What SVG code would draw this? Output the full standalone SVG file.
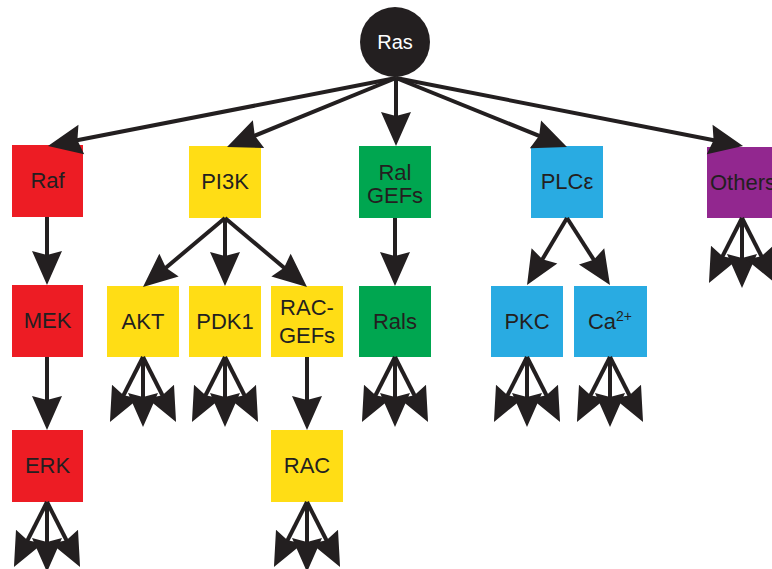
<svg xmlns="http://www.w3.org/2000/svg" xmlns:xlink="http://www.w3.org/1999/xlink" width="772" height="569" viewBox="0 0 772 569">
<style>
.lbl{font-family:"Liberation Sans",Arial,sans-serif;font-size:22px;fill:#231F20;text-anchor:middle}
.ras{font-family:"Liberation Sans",Arial,sans-serif;font-size:20px;fill:#FFFFFF;text-anchor:middle}
.red{fill:#ED1C24}.yel{fill:#FFDD15}.grn{fill:#00A650}.blu{fill:#29ABE2}.pur{fill:#92278F}
.ln{stroke:#231F20;stroke-width:4;fill:none;marker-end:url(#ah)}
</style>
<defs>
<marker id="ah" markerUnits="userSpaceOnUse" markerWidth="40" markerHeight="40" refX="0" refY="0" orient="auto" overflow="visible">
<path d="M14,0 L-20,-15 L-16,0 L-20,15 Z" fill="#231F20"/>
</marker>
<g id="fan">
<line class="ln" x1="0" y1="0" x2="-26.7" y2="52.5"/>
<line class="ln" x1="0" y1="0" x2="0" y2="56"/>
<line class="ln" x1="0" y1="0" x2="26.7" y2="52.5"/>
</g>
</defs>
<rect width="772" height="569" fill="#FFFFFF"/>
<g id="ras"><circle cx="395" cy="42" r="35" fill="#231F20"/><text class="ras" x="395" y="49">Ras</text></g>
<g id="raf"><rect class="red" x="12" y="145" width="71" height="72"/><text class="lbl" x="47.5" y="188">Raf</text></g>
<g id="mek"><rect class="red" x="12" y="285" width="71" height="72"/><text class="lbl" x="47.5" y="328">MEK</text></g>
<g id="erk"><rect class="red" x="12" y="430" width="71" height="72"/><text class="lbl" x="47.5" y="473">ERK</text></g>
<g id="pi3k"><rect class="yel" x="189" y="146" width="72" height="72"/><text class="lbl" x="225" y="189">PI3K</text></g>
<g id="akt"><rect class="yel" x="107" y="286" width="72" height="71"/><text class="lbl" x="143" y="329">AKT</text></g>
<g id="pdk1"><rect class="yel" x="189" y="286" width="72" height="71"/><text class="lbl" x="225" y="329">PDK1</text></g>
<g id="racgefs"><rect class="yel" x="271" y="286" width="72" height="71"/><text class="lbl" x="307" y="315">RAC-</text><text class="lbl" x="307" y="343">GEFs</text></g>
<g id="rac"><rect class="yel" x="271" y="430" width="72" height="72"/><text class="lbl" x="307" y="473">RAC</text></g>
<g id="ralgefs"><rect class="grn" x="359" y="146" width="72" height="72"/><text class="lbl" x="395" y="180">Ral</text><text class="lbl" x="395" y="203">GEFs</text></g>
<g id="rals"><rect class="grn" x="359" y="286" width="72" height="71"/><text class="lbl" x="395" y="329">Rals</text></g>
<g id="plce"><rect class="blu" x="531" y="146" width="72" height="72"/><text class="lbl" x="567" y="189">PLCε</text></g>
<g id="pkc"><rect class="blu" x="491" y="286" width="72" height="71"/><text class="lbl" x="527" y="329">PKC</text></g>
<g id="ca"><rect class="blu" x="574" y="286" width="73" height="71"/><text class="lbl" x="610" y="329">Ca<tspan font-size="14" dy="-8">2+</tspan></text></g>
<g id="others"><rect class="pur" x="707" y="147" width="72" height="71"/><text class="lbl" x="743" y="190">Others</text></g>
<g id="connectors">
<line class="ln" x1="396" y1="78" x2="61.7" y2="143.3"/>
<line class="ln" x1="396" y1="78" x2="240" y2="141.7"/>
<line class="ln" x1="396" y1="78" x2="396" y2="132"/>
<line class="ln" x1="396" y1="78" x2="554" y2="141.8"/>
<line class="ln" x1="396" y1="78" x2="729.3" y2="143.3"/>
<line class="ln" x1="47" y1="217" x2="47" y2="271"/>
<line class="ln" x1="47" y1="357" x2="47" y2="416"/>
<line class="ln" x1="395" y1="218" x2="395" y2="272"/>
<line class="ln" x1="307" y1="357" x2="307" y2="416"/>
<line class="ln" x1="225" y1="218" x2="225" y2="272"/>
<line class="ln" x1="225" y1="218" x2="153.7" y2="278"/>
<line class="ln" x1="225" y1="218" x2="296.3" y2="278"/>
<line class="ln" x1="567" y1="218" x2="534.2" y2="273"/>
<line class="ln" x1="567" y1="218" x2="602.4" y2="273.2"/>
<use xlink:href="#fan" x="47" y="502"/>
<use xlink:href="#fan" x="143" y="357"/>
<use xlink:href="#fan" x="225" y="357"/>
<use xlink:href="#fan" x="395" y="357"/>
<use xlink:href="#fan" x="527" y="357"/>
<use xlink:href="#fan" x="610" y="357"/>
<use xlink:href="#fan" x="307" y="502"/>
<use xlink:href="#fan" x="742" y="218"/>
</g>
</svg>
